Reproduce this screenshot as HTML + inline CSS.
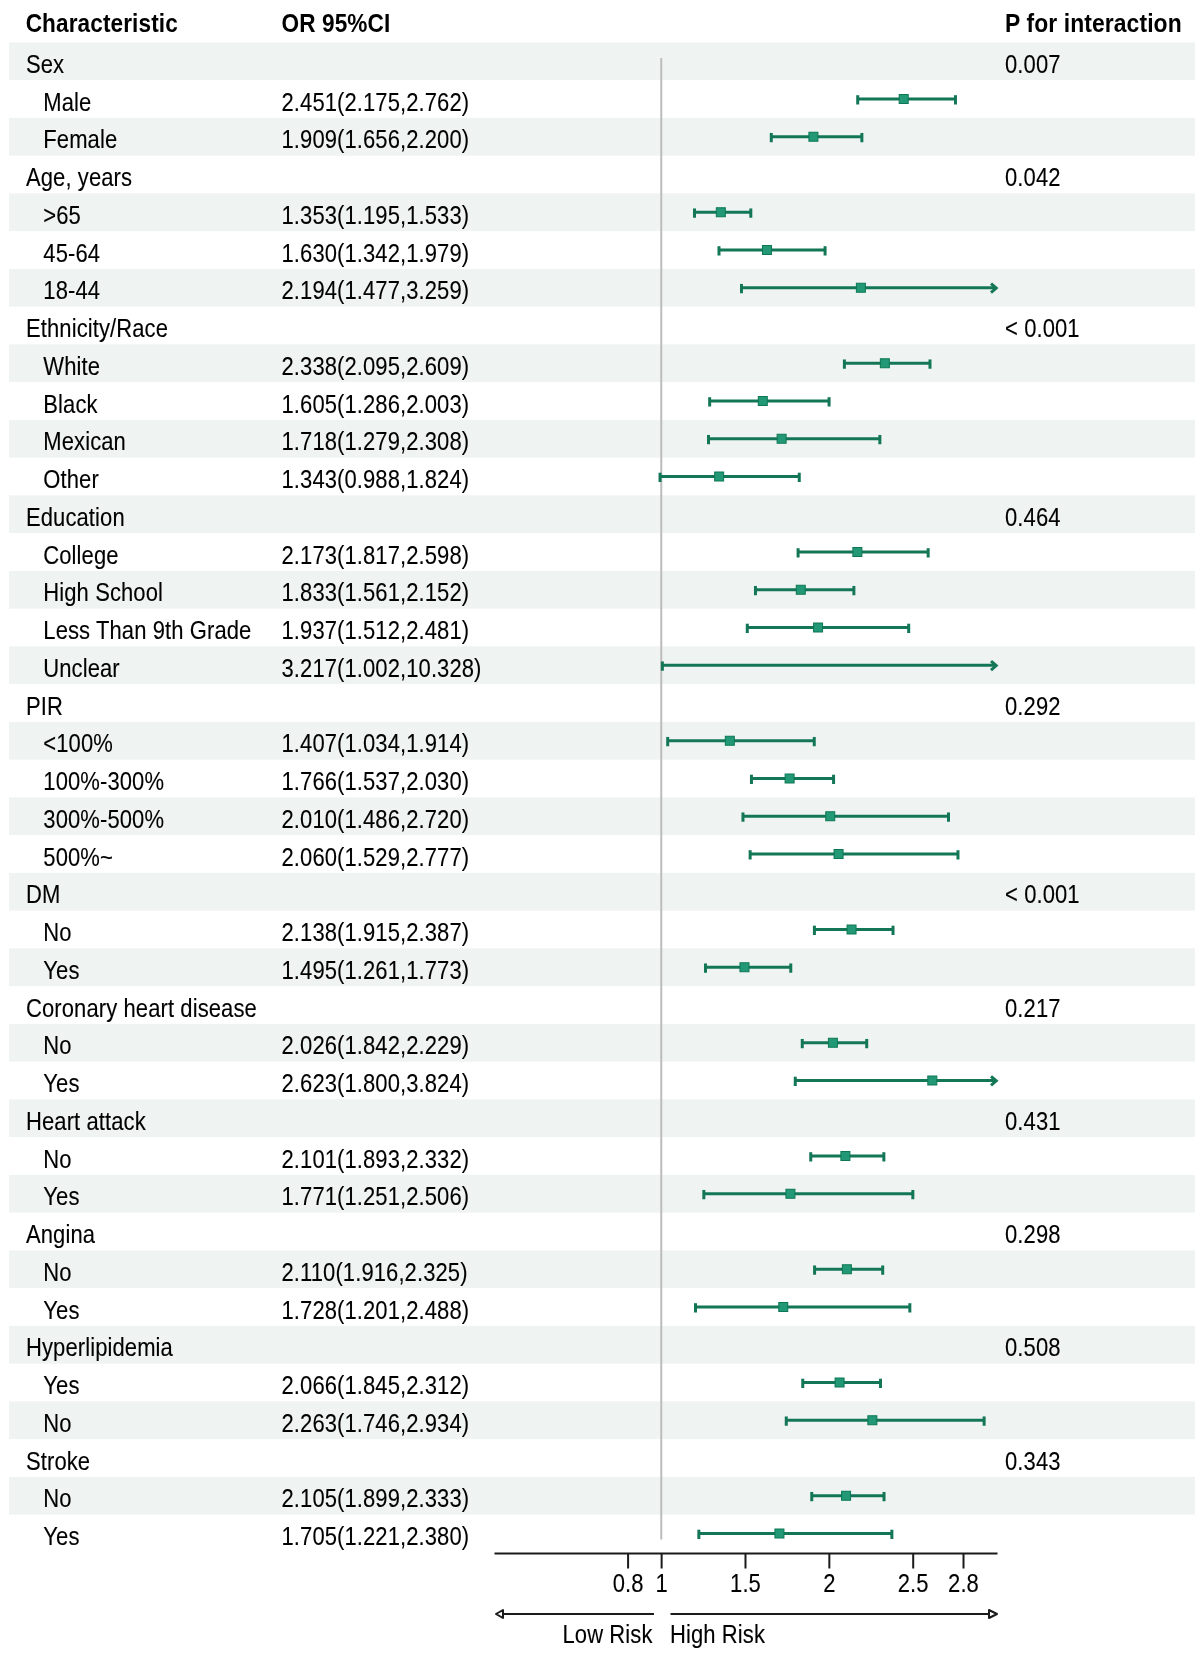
<!DOCTYPE html><html><head><meta charset="utf-8"><title>Forest plot</title><style>html,body{margin:0;padding:0;background:#fff;}svg{display:block;filter:blur(0.5px);}text{font-family:"Liberation Sans",sans-serif;font-size:22px;fill:#000;letter-spacing:0.1px;stroke:#000;stroke-width:0.1px;}text[font-weight="bold"]{stroke:none;}</style></head><body>
<svg width="1200" height="1668" viewBox="0 0 1200 1668">
<rect x="9" y="42.38" width="1186" height="37.75" fill="#eff3f2"/>
<rect x="9" y="117.88" width="1186" height="37.75" fill="#eff3f2"/>
<rect x="9" y="193.38" width="1186" height="37.75" fill="#eff3f2"/>
<rect x="9" y="268.88" width="1186" height="37.75" fill="#eff3f2"/>
<rect x="9" y="344.38" width="1186" height="37.75" fill="#eff3f2"/>
<rect x="9" y="419.88" width="1186" height="37.75" fill="#eff3f2"/>
<rect x="9" y="495.38" width="1186" height="37.75" fill="#eff3f2"/>
<rect x="9" y="570.88" width="1186" height="37.75" fill="#eff3f2"/>
<rect x="9" y="646.38" width="1186" height="37.75" fill="#eff3f2"/>
<rect x="9" y="721.88" width="1186" height="37.75" fill="#eff3f2"/>
<rect x="9" y="797.38" width="1186" height="37.75" fill="#eff3f2"/>
<rect x="9" y="872.88" width="1186" height="37.75" fill="#eff3f2"/>
<rect x="9" y="948.38" width="1186" height="37.75" fill="#eff3f2"/>
<rect x="9" y="1023.88" width="1186" height="37.75" fill="#eff3f2"/>
<rect x="9" y="1099.38" width="1186" height="37.75" fill="#eff3f2"/>
<rect x="9" y="1174.88" width="1186" height="37.75" fill="#eff3f2"/>
<rect x="9" y="1250.38" width="1186" height="37.75" fill="#eff3f2"/>
<rect x="9" y="1325.88" width="1186" height="37.75" fill="#eff3f2"/>
<rect x="9" y="1401.38" width="1186" height="37.75" fill="#eff3f2"/>
<rect x="9" y="1476.88" width="1186" height="37.75" fill="#eff3f2"/>
<text transform="matrix(1,0,0,1.13,25.70,31.50)" font-weight="bold" style="font-size:22.6px">Characteristic</text>
<text transform="matrix(1,0,0,1.13,281.50,31.50)" font-weight="bold" style="font-size:22.6px">OR 95%CI</text>
<text transform="matrix(1,0,0,1.13,1005.00,31.50)" font-weight="bold" style="font-size:22.9px">P for interaction</text>
<line x1="661.25" y1="58" x2="661.25" y2="1539.5" stroke="#bcbcbc" stroke-width="2"/>
<text transform="matrix(1,0,0,1.13,26.00,72.85)">Sex</text>
<text transform="matrix(1,0,0,1.13,1005.00,72.85)">0.007</text>
<text transform="matrix(1,0,0,1.13,43.30,110.60)">Male</text>
<text transform="matrix(1,0,0,1.13,281.50,110.60)">2.451(2.175,2.762)</text>
<line x1="857.71" y1="99.00" x2="955.47" y2="99.00" stroke="#137757" stroke-width="3"/>
<line x1="857.71" y1="95.20" x2="857.71" y2="104.50" stroke="#137757" stroke-width="3"/>
<line x1="955.47" y1="95.20" x2="955.47" y2="104.50" stroke="#137757" stroke-width="3"/>
<rect x="899.18" y="94.50" width="9" height="9" fill="#239876" stroke="#0c7853" stroke-width="1"/>
<text transform="matrix(1,0,0,1.13,43.30,148.35)">Female</text>
<text transform="matrix(1,0,0,1.13,281.50,148.35)">1.909(1.656,2.200)</text>
<line x1="771.28" y1="136.75" x2="861.88" y2="136.75" stroke="#137757" stroke-width="3"/>
<line x1="771.28" y1="132.95" x2="771.28" y2="142.25" stroke="#137757" stroke-width="3"/>
<line x1="861.88" y1="132.95" x2="861.88" y2="142.25" stroke="#137757" stroke-width="3"/>
<rect x="808.91" y="132.25" width="9" height="9" fill="#239876" stroke="#0c7853" stroke-width="1"/>
<text transform="matrix(1,0,0,1.13,26.00,186.10)">Age, years</text>
<text transform="matrix(1,0,0,1.13,1005.00,186.10)">0.042</text>
<text transform="matrix(1,0,0,1.13,43.30,223.85)">>65</text>
<text transform="matrix(1,0,0,1.13,281.50,223.85)">1.353(1.195,1.533)</text>
<line x1="694.51" y1="212.25" x2="750.80" y2="212.25" stroke="#137757" stroke-width="3"/>
<line x1="694.51" y1="208.45" x2="694.51" y2="217.75" stroke="#137757" stroke-width="3"/>
<line x1="750.80" y1="208.45" x2="750.80" y2="217.75" stroke="#137757" stroke-width="3"/>
<rect x="716.32" y="207.75" width="9" height="9" fill="#239876" stroke="#0c7853" stroke-width="1"/>
<text transform="matrix(1,0,0,1.13,43.30,261.60)">45-64</text>
<text transform="matrix(1,0,0,1.13,281.50,261.60)">1.630(1.342,1.979)</text>
<line x1="718.99" y1="250.00" x2="825.07" y2="250.00" stroke="#137757" stroke-width="3"/>
<line x1="718.99" y1="246.20" x2="718.99" y2="255.50" stroke="#137757" stroke-width="3"/>
<line x1="825.07" y1="246.20" x2="825.07" y2="255.50" stroke="#137757" stroke-width="3"/>
<rect x="762.45" y="245.50" width="9" height="9" fill="#239876" stroke="#0c7853" stroke-width="1"/>
<text transform="matrix(1,0,0,1.13,43.30,299.35)">18-44</text>
<text transform="matrix(1,0,0,1.13,281.50,299.35)">2.194(1.477,3.259)</text>
<line x1="741.47" y1="287.75" x2="995.11" y2="287.75" stroke="#137757" stroke-width="3"/>
<line x1="741.47" y1="283.95" x2="741.47" y2="293.25" stroke="#137757" stroke-width="3"/>
<polyline points="991.00,283.55 996.20,288.05 991.00,292.55" fill="none" stroke="#137757" stroke-width="3" stroke-linejoin="miter"/>
<rect x="856.38" y="283.25" width="9" height="9" fill="#239876" stroke="#0c7853" stroke-width="1"/>
<text transform="matrix(1,0,0,1.13,26.00,337.10)">Ethnicity/Race</text>
<text transform="matrix(1,0,0,1.13,1005.00,337.10)">&lt; 0.001</text>
<text transform="matrix(1,0,0,1.13,43.30,374.85)">White</text>
<text transform="matrix(1,0,0,1.13,281.50,374.85)">2.338(2.095,2.609)</text>
<line x1="844.39" y1="363.25" x2="929.99" y2="363.25" stroke="#137757" stroke-width="3"/>
<line x1="844.39" y1="359.45" x2="844.39" y2="368.75" stroke="#137757" stroke-width="3"/>
<line x1="929.99" y1="359.45" x2="929.99" y2="368.75" stroke="#137757" stroke-width="3"/>
<rect x="880.36" y="358.75" width="9" height="9" fill="#239876" stroke="#0c7853" stroke-width="1"/>
<text transform="matrix(1,0,0,1.13,43.30,412.60)">Black</text>
<text transform="matrix(1,0,0,1.13,281.50,412.60)">1.605(1.286,2.003)</text>
<line x1="709.66" y1="401.00" x2="829.07" y2="401.00" stroke="#137757" stroke-width="3"/>
<line x1="709.66" y1="397.20" x2="709.66" y2="406.50" stroke="#137757" stroke-width="3"/>
<line x1="829.07" y1="397.20" x2="829.07" y2="406.50" stroke="#137757" stroke-width="3"/>
<rect x="758.29" y="396.50" width="9" height="9" fill="#239876" stroke="#0c7853" stroke-width="1"/>
<text transform="matrix(1,0,0,1.13,43.30,450.35)">Mexican</text>
<text transform="matrix(1,0,0,1.13,281.50,450.35)">1.718(1.279,2.308)</text>
<line x1="708.49" y1="438.75" x2="879.86" y2="438.75" stroke="#137757" stroke-width="3"/>
<line x1="708.49" y1="434.95" x2="708.49" y2="444.25" stroke="#137757" stroke-width="3"/>
<line x1="879.86" y1="434.95" x2="879.86" y2="444.25" stroke="#137757" stroke-width="3"/>
<rect x="777.11" y="434.25" width="9" height="9" fill="#239876" stroke="#0c7853" stroke-width="1"/>
<text transform="matrix(1,0,0,1.13,43.30,488.10)">Other</text>
<text transform="matrix(1,0,0,1.13,281.50,488.10)">1.343(0.988,1.824)</text>
<line x1="660.03" y1="476.50" x2="799.26" y2="476.50" stroke="#137757" stroke-width="3"/>
<line x1="660.03" y1="472.70" x2="660.03" y2="482.00" stroke="#137757" stroke-width="3"/>
<line x1="799.26" y1="472.70" x2="799.26" y2="482.00" stroke="#137757" stroke-width="3"/>
<rect x="714.65" y="472.00" width="9" height="9" fill="#239876" stroke="#0c7853" stroke-width="1"/>
<text transform="matrix(1,0,0,1.13,26.00,525.85)">Education</text>
<text transform="matrix(1,0,0,1.13,1005.00,525.85)">0.464</text>
<text transform="matrix(1,0,0,1.13,43.30,563.60)">College</text>
<text transform="matrix(1,0,0,1.13,281.50,563.60)">2.173(1.817,2.598)</text>
<line x1="798.09" y1="552.00" x2="928.16" y2="552.00" stroke="#137757" stroke-width="3"/>
<line x1="798.09" y1="548.20" x2="798.09" y2="557.50" stroke="#137757" stroke-width="3"/>
<line x1="928.16" y1="548.20" x2="928.16" y2="557.50" stroke="#137757" stroke-width="3"/>
<rect x="852.88" y="547.50" width="9" height="9" fill="#239876" stroke="#0c7853" stroke-width="1"/>
<text transform="matrix(1,0,0,1.13,43.30,601.35)">High School</text>
<text transform="matrix(1,0,0,1.13,281.50,601.35)">1.833(1.561,2.152)</text>
<line x1="755.46" y1="589.75" x2="853.88" y2="589.75" stroke="#137757" stroke-width="3"/>
<line x1="755.46" y1="585.95" x2="755.46" y2="595.25" stroke="#137757" stroke-width="3"/>
<line x1="853.88" y1="585.95" x2="853.88" y2="595.25" stroke="#137757" stroke-width="3"/>
<rect x="796.26" y="585.25" width="9" height="9" fill="#239876" stroke="#0c7853" stroke-width="1"/>
<text transform="matrix(1,0,0,1.13,43.30,639.10)">Less Than 9th Grade</text>
<text transform="matrix(1,0,0,1.13,281.50,639.10)">1.937(1.512,2.481)</text>
<line x1="747.30" y1="627.50" x2="908.68" y2="627.50" stroke="#137757" stroke-width="3"/>
<line x1="747.30" y1="623.70" x2="747.30" y2="633.00" stroke="#137757" stroke-width="3"/>
<line x1="908.68" y1="623.70" x2="908.68" y2="633.00" stroke="#137757" stroke-width="3"/>
<rect x="813.58" y="623.00" width="9" height="9" fill="#239876" stroke="#0c7853" stroke-width="1"/>
<text transform="matrix(1,0,0,1.13,43.30,676.85)">Unclear</text>
<text transform="matrix(1,0,0,1.13,281.50,676.85)">3.217(1.002,10.328)</text>
<line x1="662.36" y1="665.25" x2="995.11" y2="665.25" stroke="#137757" stroke-width="3"/>
<line x1="662.36" y1="661.45" x2="662.36" y2="670.75" stroke="#137757" stroke-width="3"/>
<polyline points="991.00,661.05 996.20,665.55 991.00,670.05" fill="none" stroke="#137757" stroke-width="3" stroke-linejoin="miter"/>
<text transform="matrix(1,0,0,1.13,26.00,714.60)">PIR</text>
<text transform="matrix(1,0,0,1.13,1005.00,714.60)">0.292</text>
<text transform="matrix(1,0,0,1.13,43.30,752.35)">&lt;100%</text>
<text transform="matrix(1,0,0,1.13,281.50,752.35)">1.407(1.034,1.914)</text>
<line x1="667.69" y1="740.75" x2="814.25" y2="740.75" stroke="#137757" stroke-width="3"/>
<line x1="667.69" y1="736.95" x2="667.69" y2="746.25" stroke="#137757" stroke-width="3"/>
<line x1="814.25" y1="736.95" x2="814.25" y2="746.25" stroke="#137757" stroke-width="3"/>
<rect x="725.31" y="736.25" width="9" height="9" fill="#239876" stroke="#0c7853" stroke-width="1"/>
<text transform="matrix(1,0,0,1.13,43.30,790.10)">100%-300%</text>
<text transform="matrix(1,0,0,1.13,281.50,790.10)">1.766(1.537,2.030)</text>
<line x1="751.46" y1="778.50" x2="833.57" y2="778.50" stroke="#137757" stroke-width="3"/>
<line x1="751.46" y1="774.70" x2="751.46" y2="784.00" stroke="#137757" stroke-width="3"/>
<line x1="833.57" y1="774.70" x2="833.57" y2="784.00" stroke="#137757" stroke-width="3"/>
<rect x="785.10" y="774.00" width="9" height="9" fill="#239876" stroke="#0c7853" stroke-width="1"/>
<text transform="matrix(1,0,0,1.13,43.30,827.85)">300%-500%</text>
<text transform="matrix(1,0,0,1.13,281.50,827.85)">2.010(1.486,2.720)</text>
<line x1="742.97" y1="816.25" x2="948.48" y2="816.25" stroke="#137757" stroke-width="3"/>
<line x1="742.97" y1="812.45" x2="742.97" y2="821.75" stroke="#137757" stroke-width="3"/>
<line x1="948.48" y1="812.45" x2="948.48" y2="821.75" stroke="#137757" stroke-width="3"/>
<rect x="825.74" y="811.75" width="9" height="9" fill="#239876" stroke="#0c7853" stroke-width="1"/>
<text transform="matrix(1,0,0,1.13,43.30,865.60)">500%~</text>
<text transform="matrix(1,0,0,1.13,281.50,865.60)">2.060(1.529,2.777)</text>
<line x1="750.13" y1="854.00" x2="957.97" y2="854.00" stroke="#137757" stroke-width="3"/>
<line x1="750.13" y1="850.20" x2="750.13" y2="859.50" stroke="#137757" stroke-width="3"/>
<line x1="957.97" y1="850.20" x2="957.97" y2="859.50" stroke="#137757" stroke-width="3"/>
<rect x="834.06" y="849.50" width="9" height="9" fill="#239876" stroke="#0c7853" stroke-width="1"/>
<text transform="matrix(1,0,0,1.13,26.00,903.35)">DM</text>
<text transform="matrix(1,0,0,1.13,1005.00,903.35)">&lt; 0.001</text>
<text transform="matrix(1,0,0,1.13,43.30,941.10)">No</text>
<text transform="matrix(1,0,0,1.13,281.50,941.10)">2.138(1.915,2.387)</text>
<line x1="814.41" y1="929.50" x2="893.02" y2="929.50" stroke="#137757" stroke-width="3"/>
<line x1="814.41" y1="925.70" x2="814.41" y2="935.00" stroke="#137757" stroke-width="3"/>
<line x1="893.02" y1="925.70" x2="893.02" y2="935.00" stroke="#137757" stroke-width="3"/>
<rect x="847.05" y="925.00" width="9" height="9" fill="#239876" stroke="#0c7853" stroke-width="1"/>
<text transform="matrix(1,0,0,1.13,43.30,978.85)">Yes</text>
<text transform="matrix(1,0,0,1.13,281.50,978.85)">1.495(1.261,1.773)</text>
<line x1="705.50" y1="967.25" x2="790.77" y2="967.25" stroke="#137757" stroke-width="3"/>
<line x1="705.50" y1="963.45" x2="705.50" y2="972.75" stroke="#137757" stroke-width="3"/>
<line x1="790.77" y1="963.45" x2="790.77" y2="972.75" stroke="#137757" stroke-width="3"/>
<rect x="739.97" y="962.75" width="9" height="9" fill="#239876" stroke="#0c7853" stroke-width="1"/>
<text transform="matrix(1,0,0,1.13,26.00,1016.60)">Coronary heart disease</text>
<text transform="matrix(1,0,0,1.13,1005.00,1016.60)">0.217</text>
<text transform="matrix(1,0,0,1.13,43.30,1054.35)">No</text>
<text transform="matrix(1,0,0,1.13,281.50,1054.35)">2.026(1.842,2.229)</text>
<line x1="802.26" y1="1042.75" x2="866.71" y2="1042.75" stroke="#137757" stroke-width="3"/>
<line x1="802.26" y1="1038.95" x2="802.26" y2="1048.25" stroke="#137757" stroke-width="3"/>
<line x1="866.71" y1="1038.95" x2="866.71" y2="1048.25" stroke="#137757" stroke-width="3"/>
<rect x="828.40" y="1038.25" width="9" height="9" fill="#239876" stroke="#0c7853" stroke-width="1"/>
<text transform="matrix(1,0,0,1.13,43.30,1092.10)">Yes</text>
<text transform="matrix(1,0,0,1.13,281.50,1092.10)">2.623(1.800,3.824)</text>
<line x1="795.26" y1="1080.50" x2="995.11" y2="1080.50" stroke="#137757" stroke-width="3"/>
<line x1="795.26" y1="1076.70" x2="795.26" y2="1086.00" stroke="#137757" stroke-width="3"/>
<polyline points="991.00,1076.30 996.20,1080.80 991.00,1085.30" fill="none" stroke="#137757" stroke-width="3" stroke-linejoin="miter"/>
<rect x="927.82" y="1076.00" width="9" height="9" fill="#239876" stroke="#0c7853" stroke-width="1"/>
<text transform="matrix(1,0,0,1.13,26.00,1129.85)">Heart attack</text>
<text transform="matrix(1,0,0,1.13,1005.00,1129.85)">0.431</text>
<text transform="matrix(1,0,0,1.13,43.30,1167.60)">No</text>
<text transform="matrix(1,0,0,1.13,281.50,1167.60)">2.101(1.893,2.332)</text>
<line x1="810.75" y1="1156.00" x2="883.86" y2="1156.00" stroke="#137757" stroke-width="3"/>
<line x1="810.75" y1="1152.20" x2="810.75" y2="1161.50" stroke="#137757" stroke-width="3"/>
<line x1="883.86" y1="1152.20" x2="883.86" y2="1161.50" stroke="#137757" stroke-width="3"/>
<rect x="840.89" y="1151.50" width="9" height="9" fill="#239876" stroke="#0c7853" stroke-width="1"/>
<text transform="matrix(1,0,0,1.13,43.30,1205.35)">Yes</text>
<text transform="matrix(1,0,0,1.13,281.50,1205.35)">1.771(1.251,2.506)</text>
<line x1="703.83" y1="1193.75" x2="912.84" y2="1193.75" stroke="#137757" stroke-width="3"/>
<line x1="703.83" y1="1189.95" x2="703.83" y2="1199.25" stroke="#137757" stroke-width="3"/>
<line x1="912.84" y1="1189.95" x2="912.84" y2="1199.25" stroke="#137757" stroke-width="3"/>
<rect x="785.93" y="1189.25" width="9" height="9" fill="#239876" stroke="#0c7853" stroke-width="1"/>
<text transform="matrix(1,0,0,1.13,26.00,1243.10)">Angina</text>
<text transform="matrix(1,0,0,1.13,1005.00,1243.10)">0.298</text>
<text transform="matrix(1,0,0,1.13,43.30,1280.85)">No</text>
<text transform="matrix(1,0,0,1.13,281.50,1280.85)">2.110(1.916,2.325)</text>
<line x1="814.58" y1="1269.25" x2="882.70" y2="1269.25" stroke="#137757" stroke-width="3"/>
<line x1="814.58" y1="1265.45" x2="814.58" y2="1274.75" stroke="#137757" stroke-width="3"/>
<line x1="882.70" y1="1265.45" x2="882.70" y2="1274.75" stroke="#137757" stroke-width="3"/>
<rect x="842.39" y="1264.75" width="9" height="9" fill="#239876" stroke="#0c7853" stroke-width="1"/>
<text transform="matrix(1,0,0,1.13,43.30,1318.60)">Yes</text>
<text transform="matrix(1,0,0,1.13,281.50,1318.60)">1.728(1.201,2.488)</text>
<line x1="695.50" y1="1307.00" x2="909.84" y2="1307.00" stroke="#137757" stroke-width="3"/>
<line x1="695.50" y1="1303.20" x2="695.50" y2="1312.50" stroke="#137757" stroke-width="3"/>
<line x1="909.84" y1="1303.20" x2="909.84" y2="1312.50" stroke="#137757" stroke-width="3"/>
<rect x="778.77" y="1302.50" width="9" height="9" fill="#239876" stroke="#0c7853" stroke-width="1"/>
<text transform="matrix(1,0,0,1.13,26.00,1356.35)">Hyperlipidemia</text>
<text transform="matrix(1,0,0,1.13,1005.00,1356.35)">0.508</text>
<text transform="matrix(1,0,0,1.13,43.30,1394.10)">Yes</text>
<text transform="matrix(1,0,0,1.13,281.50,1394.10)">2.066(1.845,2.312)</text>
<line x1="802.76" y1="1382.50" x2="880.53" y2="1382.50" stroke="#137757" stroke-width="3"/>
<line x1="802.76" y1="1378.70" x2="802.76" y2="1388.00" stroke="#137757" stroke-width="3"/>
<line x1="880.53" y1="1378.70" x2="880.53" y2="1388.00" stroke="#137757" stroke-width="3"/>
<rect x="835.06" y="1378.00" width="9" height="9" fill="#239876" stroke="#0c7853" stroke-width="1"/>
<text transform="matrix(1,0,0,1.13,43.30,1431.85)">No</text>
<text transform="matrix(1,0,0,1.13,281.50,1431.85)">2.263(1.746,2.934)</text>
<line x1="786.27" y1="1420.25" x2="984.12" y2="1420.25" stroke="#137757" stroke-width="3"/>
<line x1="786.27" y1="1416.45" x2="786.27" y2="1425.75" stroke="#137757" stroke-width="3"/>
<line x1="984.12" y1="1416.45" x2="984.12" y2="1425.75" stroke="#137757" stroke-width="3"/>
<rect x="867.87" y="1415.75" width="9" height="9" fill="#239876" stroke="#0c7853" stroke-width="1"/>
<text transform="matrix(1,0,0,1.13,26.00,1469.60)">Stroke</text>
<text transform="matrix(1,0,0,1.13,1005.00,1469.60)">0.343</text>
<text transform="matrix(1,0,0,1.13,43.30,1507.35)">No</text>
<text transform="matrix(1,0,0,1.13,281.50,1507.35)">2.105(1.899,2.333)</text>
<line x1="811.75" y1="1495.75" x2="884.03" y2="1495.75" stroke="#137757" stroke-width="3"/>
<line x1="811.75" y1="1491.95" x2="811.75" y2="1501.25" stroke="#137757" stroke-width="3"/>
<line x1="884.03" y1="1491.95" x2="884.03" y2="1501.25" stroke="#137757" stroke-width="3"/>
<rect x="841.56" y="1491.25" width="9" height="9" fill="#239876" stroke="#0c7853" stroke-width="1"/>
<text transform="matrix(1,0,0,1.13,43.30,1545.10)">Yes</text>
<text transform="matrix(1,0,0,1.13,281.50,1545.10)">1.705(1.221,2.380)</text>
<line x1="698.84" y1="1533.50" x2="891.86" y2="1533.50" stroke="#137757" stroke-width="3"/>
<line x1="698.84" y1="1529.70" x2="698.84" y2="1539.00" stroke="#137757" stroke-width="3"/>
<line x1="891.86" y1="1529.70" x2="891.86" y2="1539.00" stroke="#137757" stroke-width="3"/>
<rect x="774.94" y="1529.00" width="9" height="9" fill="#239876" stroke="#0c7853" stroke-width="1"/>
<line x1="494.5" y1="1553.5" x2="997.5" y2="1553.5" stroke="#1a1a1a" stroke-width="2"/>
<line x1="628.09" y1="1553" x2="628.09" y2="1568.5" stroke="#1a1a1a" stroke-width="2"/>
<text transform="matrix(1,0,0,1.13,628.09,1591.50)" text-anchor="middle">0.8</text>
<line x1="661.63" y1="1553" x2="661.63" y2="1568.5" stroke="#1a1a1a" stroke-width="2"/>
<text transform="matrix(1,0,0,1.13,661.63,1591.50)" text-anchor="middle">1</text>
<line x1="745.49" y1="1553" x2="745.49" y2="1568.5" stroke="#1a1a1a" stroke-width="2"/>
<text transform="matrix(1,0,0,1.13,745.49,1591.50)" text-anchor="middle">1.5</text>
<line x1="829.34" y1="1553" x2="829.34" y2="1568.5" stroke="#1a1a1a" stroke-width="2"/>
<text transform="matrix(1,0,0,1.13,829.34,1591.50)" text-anchor="middle">2</text>
<line x1="913.20" y1="1553" x2="913.20" y2="1568.5" stroke="#1a1a1a" stroke-width="2"/>
<text transform="matrix(1,0,0,1.13,913.20,1591.50)" text-anchor="middle">2.5</text>
<line x1="963.51" y1="1553" x2="963.51" y2="1568.5" stroke="#1a1a1a" stroke-width="2"/>
<text transform="matrix(1,0,0,1.13,963.51,1591.50)" text-anchor="middle">2.8</text>
<line x1="503" y1="1614" x2="654" y2="1614" stroke="#1a1a1a" stroke-width="2"/>
<polygon points="496,1614 503,1610 503,1618" fill="#fff" stroke="#1a1a1a" stroke-width="2" stroke-linejoin="round"/>
<line x1="670.5" y1="1614" x2="989" y2="1614" stroke="#1a1a1a" stroke-width="2"/>
<polygon points="997,1614 989,1610 989,1618" fill="#fff" stroke="#1a1a1a" stroke-width="2" stroke-linejoin="round"/>
<text transform="matrix(1,0,0,1.13,652.50,1643.00)" text-anchor="end">Low Risk</text>
<text transform="matrix(1,0,0,1.13,670.00,1643.00)">High Risk</text>
</svg></body></html>
